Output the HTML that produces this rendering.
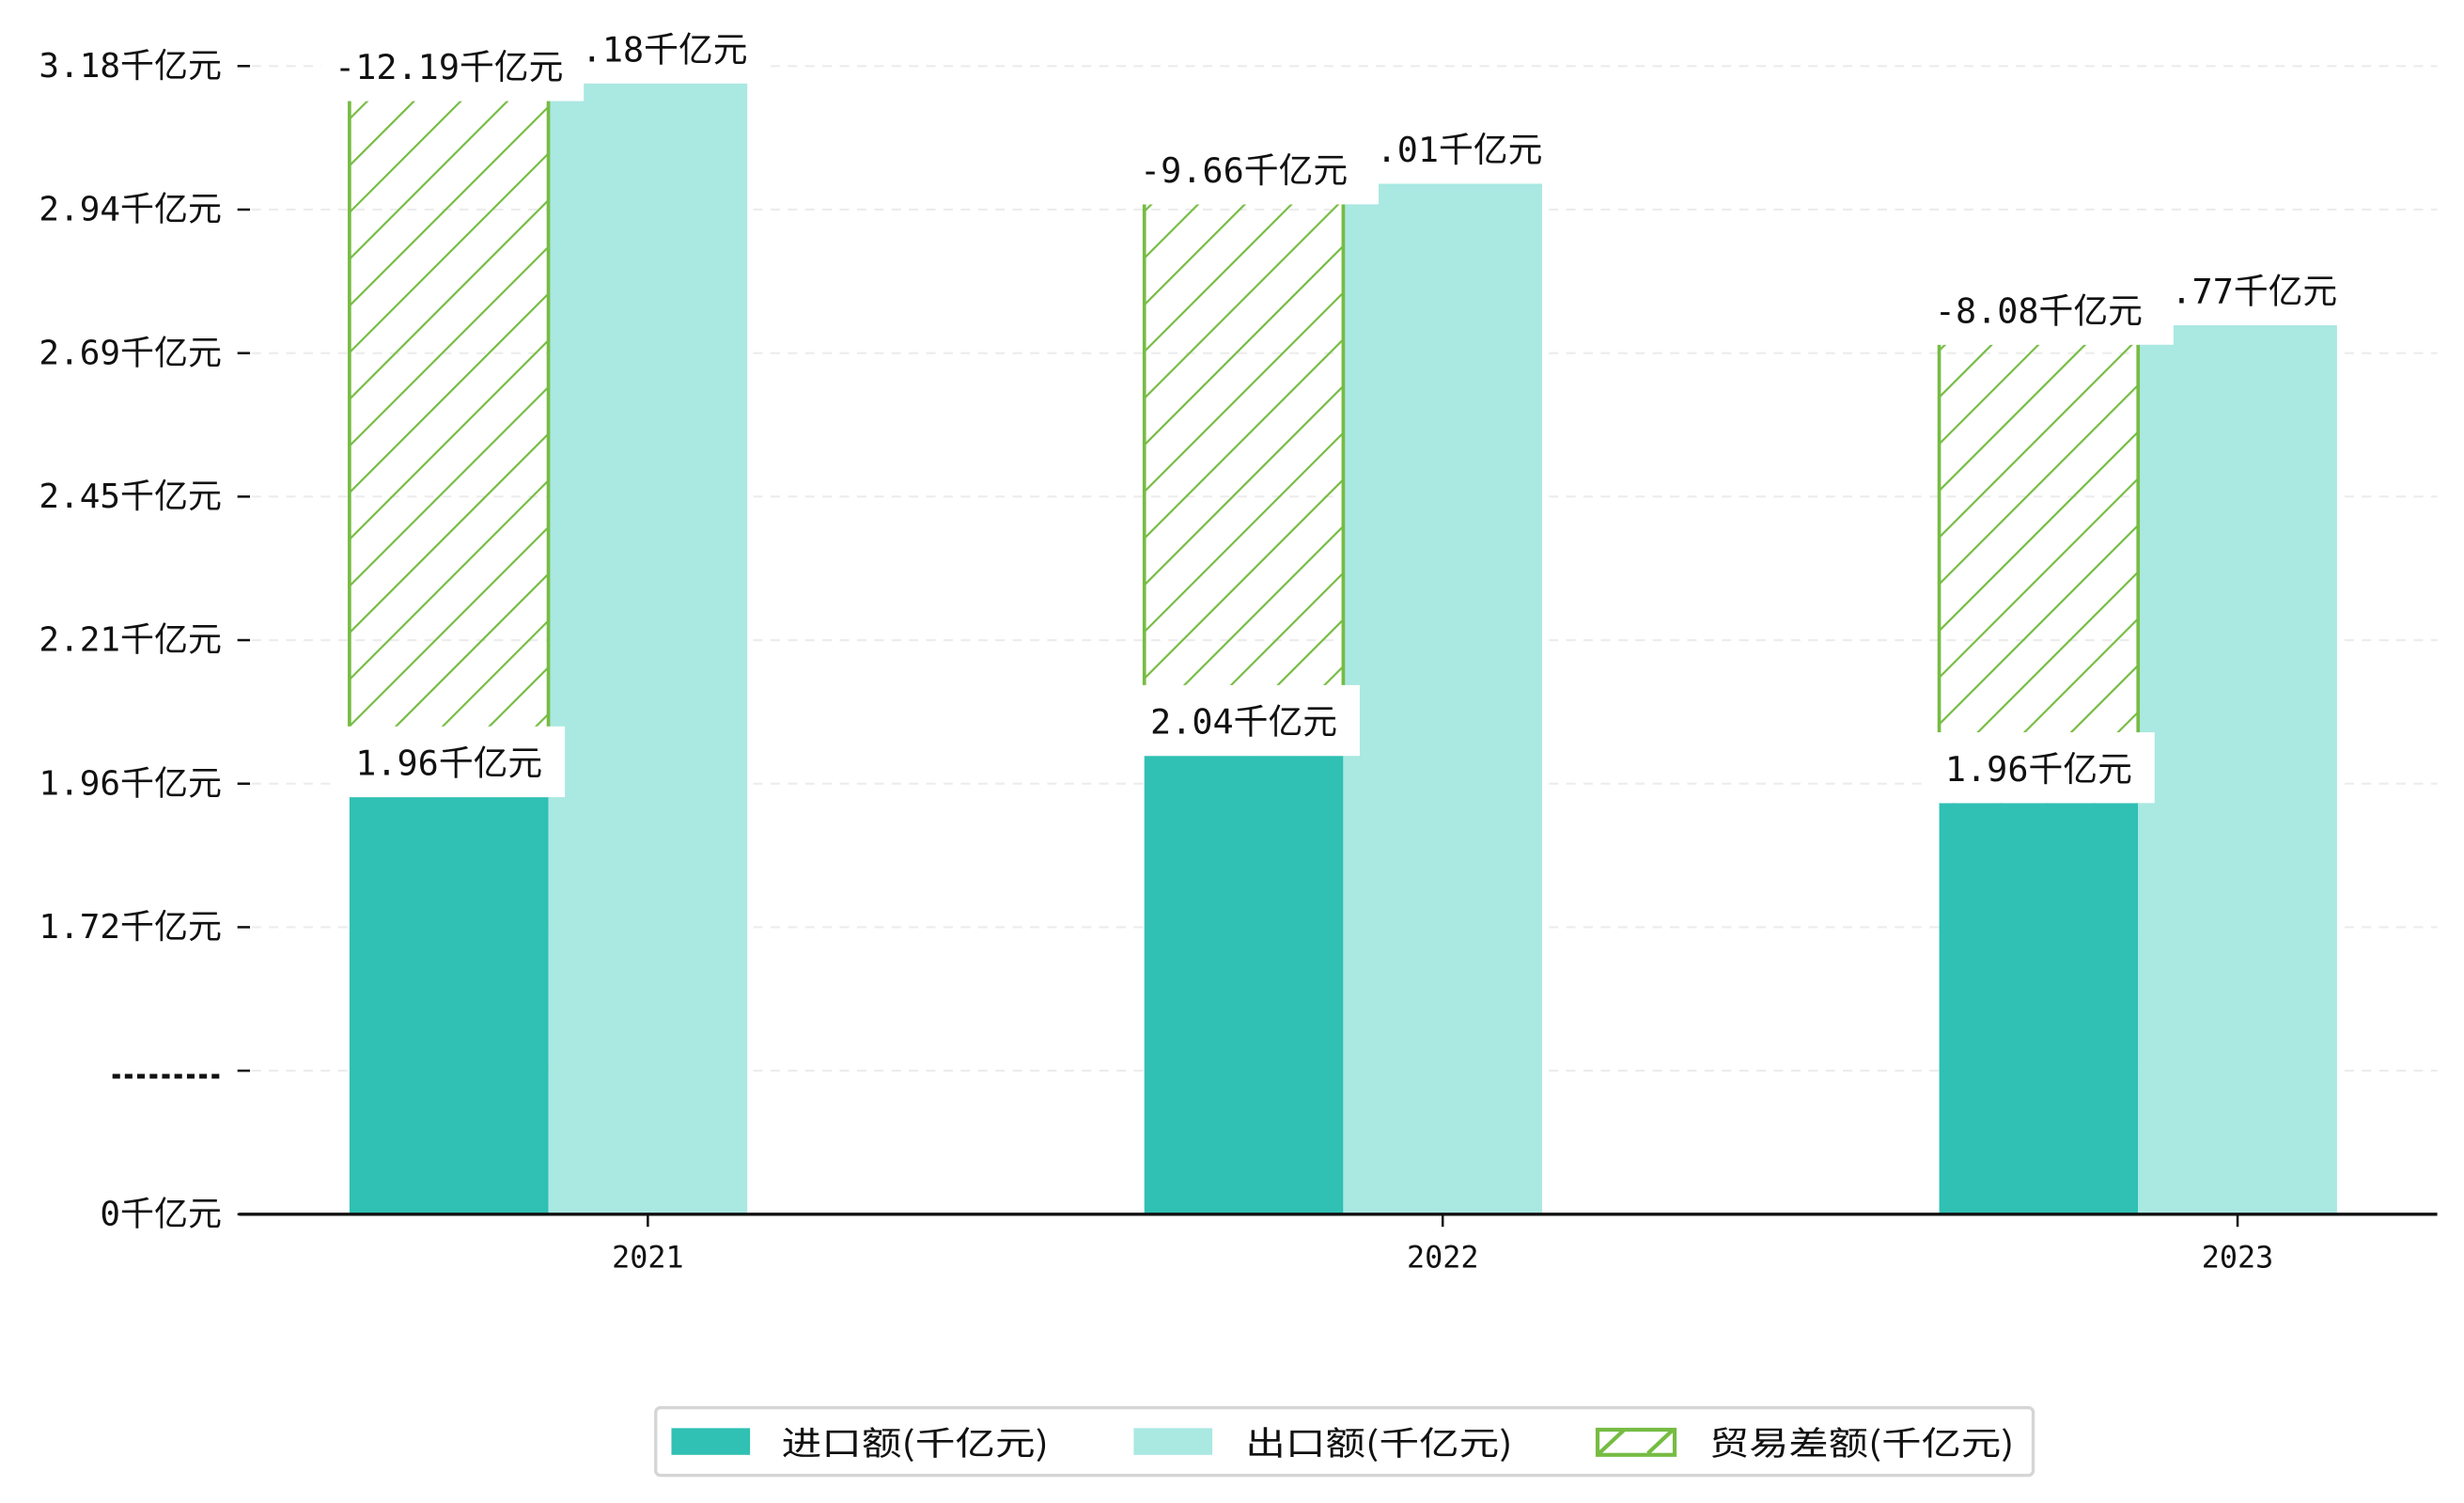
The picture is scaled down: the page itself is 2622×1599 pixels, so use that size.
<!DOCTYPE html>
<html><head><meta charset="utf-8">
<style>
html,body{margin:0;padding:0;background:#fff;}
svg{display:block;}
text{font-family:"DejaVu Sans Mono","Noto Sans CJK SC","WenQuanYi Zen Hei",monospace;fill:#111;}
.cjk{font-family:"Noto Sans CJK SC","WenQuanYi Zen Hei",sans-serif;}
</style></head>
<body>
<svg id="chart" width="2622" height="1599" viewBox="0 0 1567 955.6" preserveAspectRatio="none" xmlns="http://www.w3.org/2000/svg">
<defs>
<pattern id="hatch" patternUnits="userSpaceOnUse" width="21" height="21" patternTransform="rotate(45)">
<line x1="0" y1="0" x2="0" y2="21" stroke="#76bc43" stroke-width="2.6"/>
</pattern>
</defs>
<g id="grid"></g>
<g id="bars"></g>
<g id="labels"></g>
<g id="axes"></g>
<g id="legend">
<rect x="417" y="895" width="876" height="43" rx="3" fill="#fff" stroke="#d5d5d5" stroke-width="2"/>
<rect x="427" y="908" width="50" height="17" fill="#30c0b4"/>
<text class="cjk" x="497" y="925" font-size="21" textLength="170" lengthAdjust="spacingAndGlyphs">进口额(千亿元)</text>
<rect x="721" y="908" width="50" height="17" fill="#aae8e2"/>
<text class="cjk" x="792" y="925" font-size="21" textLength="170" lengthAdjust="spacingAndGlyphs">出口额(千亿元)</text>
<g>
<line x1="1017" y1="924" x2="1033" y2="909" stroke="#76bc43" stroke-width="2.5"/>
<line x1="1048" y1="924" x2="1064" y2="909" stroke="#76bc43" stroke-width="2.5"/>
<rect x="1016" y="909" width="49" height="16" fill="none" stroke="#76bc43" stroke-width="2.5"/>
</g>
<text class="cjk" x="1087" y="925" font-size="21" textLength="194" lengthAdjust="spacingAndGlyphs">贸易差额(千亿元)</text>
</g>
</svg>
<script>
const categories = ["2021","2022","2023"];
const importValues = [1.94, 2.01, 1.93];
const exportValues = [3.15, 2.98, 2.74];
const balanceValues = [1.18, 0.935, 0.777];
const importLabels = ["1.96千亿元","2.04千亿元","1.96千亿元"];
const exportLabels = ["3.18千亿元","3.01千亿元","2.77千亿元"];
const balanceLabels = ["-12.19千亿元","-9.66千亿元","-8.08千亿元"];
const tickLabels = ["0千亿元","………","1.72千亿元","1.96千亿元","2.21千亿元","2.45千亿元","2.69千亿元","2.94千亿元","3.18千亿元"];

const NS="http://www.w3.org/2000/svg";
function mk(tag, attrs, parent){const e=document.createElementNS(NS,tag);for(const k in attrs)e.setAttribute(k,attrs[k]);parent.appendChild(e);return e;}
const baseY=772, step=91.25, v0=1.233, vStep=0.2433;
function y(v){return baseY-(v-v0)/vStep*step;}
function h(v){return v/vStep*step;}
const centers=[412,918,1423], bw=126.5;
function cx(i){return centers[0]+i*(centers[2]-centers[0])/(categories.length-1);}

const grid=document.getElementById('grid'), bars=document.getElementById('bars'), labels=document.getElementById('labels'), axes=document.getElementById('axes');

tickLabels.forEach((t,k)=>{
  const ty=baseY-k*step;
  if(k>0){const g=mk('line',{x1:160,x2:1550,y1:ty,y2:ty,stroke:'#ececec','stroke-width':1.3,'stroke-dasharray':'6,5'},grid);
  
  }
  const tm=mk('line',{x1:151,x2:159,y1:ty,y2:ty,stroke:'#111','stroke-width':1.5},axes);
  
  
  const attrs={x:141,y:ty+7,'font-size':21.5,'text-anchor':'end'};
  if(/^…+$/.test(t)){attrs.x=70;attrs['text-anchor']='start';attrs.textLength=71;attrs.lengthAdjust='spacingAndGlyphs';attrs['font-size']=20;attrs.y=ty+5;}
  const tx=mk('text',attrs,axes);
  tx.textContent=t;
  
  
});

categories.forEach((c,i)=>{
  const c0=cx(i);
  const ix=c0-1.5*bw, ex=c0-0.5*bw;
  const ib=mk('rect',{x:ix,y:y(importValues[i]),width:bw,height:baseY-y(importValues[i]),fill:'#30c0b4'},bars);
  
  
  const eb=mk('rect',{x:ex,y:y(exportValues[i]),width:bw,height:baseY-y(exportValues[i]),fill:'#aae8e2'},bars);
  
  
  const top=y(importValues[i])-h(balanceValues[i]);
  const bb=mk('rect',{x:ix,y:top,width:bw,height:h(balanceValues[i]),fill:'url(#hatch)'},bars);
  
  
  const bl=mk('line',{x1:ix,x2:ix,y1:top,y2:y(importValues[i]),stroke:'#76bc43','stroke-width':2.2},bars);
  
  
  const br=mk('line',{x1:ix+bw,x2:ix+bw,y1:top,y2:y(importValues[i]),stroke:'#76bc43','stroke-width':2.2},bars);
  
  

  const ey=y(exportValues[i]);
  const eBox=mk('rect',{x:c0-62,y:ey-44,width:140,height:44,fill:'#fff'},labels);
  
  
  const et=mk('text',{x:c0+4,y:ey-14,'font-size':22,'text-anchor':'middle'},labels);
  et.textContent=exportLabels[i];
  
  
  const bBox=mk('rect',{x:ix-18,y:top-50,width:167,height:50,fill:'#fff'},labels);
  
  
  const bt=mk('text',{x:ix+bw/2,y:top-14,'font-size':22,'text-anchor':'middle'},labels);
  bt.textContent=balanceLabels[i];
  
  
  const iy=y(importValues[i]);
  const iBox=mk('rect',{x:ix-11,y:iy-45,width:148,height:45,fill:'#fff'},labels);
  
  
  const it=mk('text',{x:ix+bw/2,y:iy-14,'font-size':22,'text-anchor':'middle'},labels);
  it.textContent=importLabels[i];
  
  

  const xt=mk('line',{x1:c0,x2:c0,y1:baseY,y2:baseY+8,stroke:'#111','stroke-width':1.5},axes);
  
  
  const xl=mk('text',{x:c0,y:806,'font-size':19,'text-anchor':'middle'},axes);
  xl.textContent=c;
  
  
});
const ax=mk('line',{x1:152,x2:1550,y1:baseY,y2:baseY,stroke:'#111','stroke-width':2},axes);


</script>
</body></html>
